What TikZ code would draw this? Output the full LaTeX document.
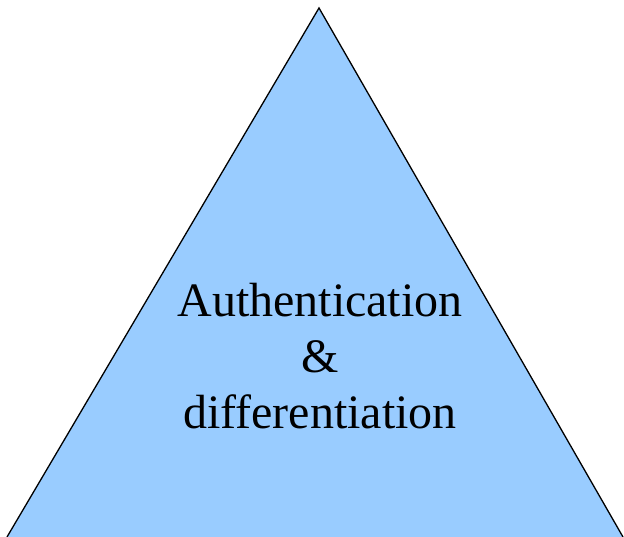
\documentclass[tikz,border=0pt]{standalone}
\usepackage{fontspec}
\setmainfont{Liberation Serif}
\definecolor{skyfill}{HTML}{99CCFF}

\begin{document}
\begin{tikzpicture}[
    x=1pt,y=1pt,
    label/.style={align=center,inner sep=0pt,font=\fontsize{48}{56}\selectfont}
    ]

    \useasboundingbox (0,0) rectangle (624,537);

    \coordinate (top) at (319,529);
    \coordinate (left) at (7,0);
    \coordinate (right) at (623,0);

    \fill[skyfill] (left) -- (top) -- (right) -- cycle;
    \draw[line width=1.3pt,line join=miter] (left) -- (top) -- (right);

    \node (auth) [label] at (320,181) {Authentication\\\&\\differentiation};

  \end{tikzpicture}
\end{document}
